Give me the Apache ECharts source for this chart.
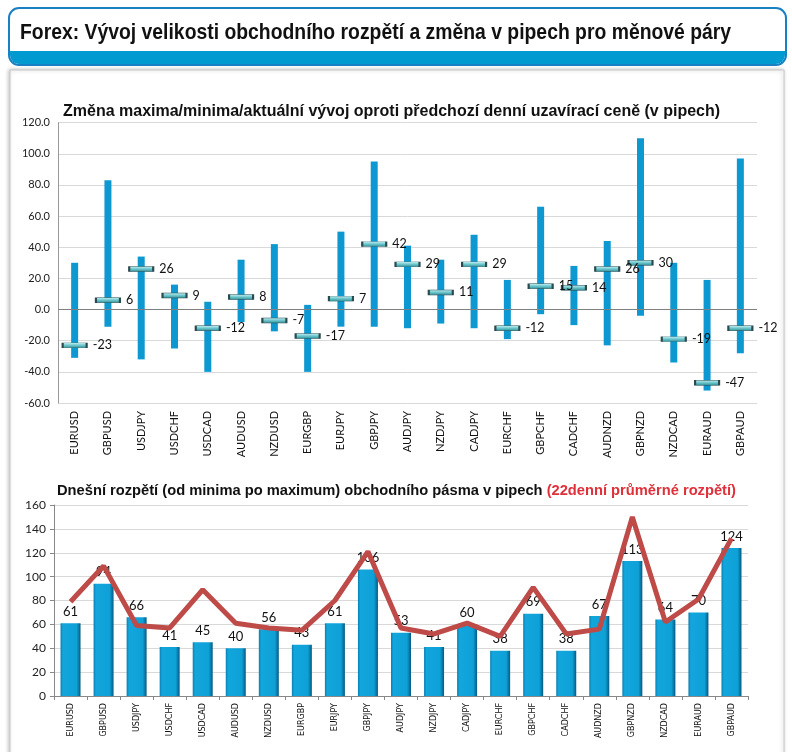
<!DOCTYPE html>
<html><head><meta charset="utf-8">
<script src="https://cdn.jsdelivr.net/npm/echarts@6/dist/echarts.min.js"></script>
<style>html,body{margin:0;padding:0;background:#fff}#c{width:792px;height:752px}</style>
</head><body><div id="c"></div>
<script>
const categories = ['EURUSD','GBPUSD','USDJPY','USDCHF','USDCAD','AUDUSD','NZDUSD','EURGBP','EURJPY','GBPJPY','AUDJPY','NZDJPY','CADJPY','EURCHF','GBPCHF','CADCHF','AUDNZD','GBPNZD','NZDCAD','EURAUD','GBPAUD'];
const highChange = [30,83,34,16,5,32,42,3,50,95,41,32,48,19,66,28,44,110,30,19,97];
const lowChange = [-31,-11,-32,-25,-40,-8,-14,-40,-11,-11,-12,-9,-12,-19,-3,-10,-23,-4,-34,-52,-28];
const currentChange = [-23,6,26,9,-12,8,-7,-17,7,42,29,11,29,-12,15,14,26,30,-19,-47,-12];
const todayRange = [61,94,66,41,45,40,56,43,61,106,53,41,60,38,69,38,67,113,64,70,124];
const avgRange22 = [79,109,59,57,89,61,57,55,80,121,57,52,61,50,91,52,56,150,62,81,132];
const topTicks = {min:-60, max:120, interval:20};
const bottomTicks = {min:0, max:160, interval:20};

const chart = echarts.init(document.getElementById('c'), null, {renderer:'canvas'});
const NUM_FONT = 'Lato, "Open Sans", sans-serif';
const option = {
  animation:false,
  graphic:[
    {type:'rect', shape:{x:10,y:70,width:774,height:700}, style:{fill:'#fff', stroke:'#c8c8c8', lineWidth:1, shadowBlur:4, shadowColor:'rgba(0,0,0,0.25)', shadowOffsetX:-1}, z:-10},
    {type:'rect', shape:{x:9,y:8,width:777,height:57,r:10}, style:{fill:'#fff', stroke:'#1a80c4', lineWidth:2}, z:1},
    {type:'rect', shape:{x:10,y:51,width:775,height:13,r:[0,0,9,9]}, style:{fill:'#0099d0'}, z:2},
    {type:'text', x:20, y:33, scaleX:0.88, style:{text:'Forex: Vývoj velikosti obchodního rozpětí a změna v pipech pro měnové páry', font:'bold 22px "Liberation Sans", Arial, sans-serif', fill:'#111', verticalAlign:'middle'}, z:3},
    {type:'text', x:63, y:112, style:{text:'Změna maxima/minima/aktuální vývoj oproti předchozí denní uzavírací ceně (v pipech)', font:'bold 16px "Liberation Sans", Arial, sans-serif', fill:'#111', verticalAlign:'middle'}, z:3},
    {type:'text', x:57, y:491, style:{text:'{a|Dnešní rozpětí (od minima po maximum) obchodního pásma v pipech }{b|(22denní průměrné rozpětí)}', rich:{a:{font:'bold 14.7px "Liberation Sans", Arial, sans-serif', fill:'#111'}, b:{font:'bold 14.7px "Liberation Sans", Arial, sans-serif', fill:'#e0303a'}}, verticalAlign:'middle'}, z:3}
  ],
  grid:[
    {left:58, right:35, top:122.6, bottom:349},
    {left:54, right:44, top:505, bottom:56}
  ],
  xAxis:[
    {gridIndex:0, type:'category', data:categories, boundaryGap:true,
     axisLine:{show:false}, axisTick:{show:false},
     axisLabel:{rotate:90, interval:0, fontSize:11, fontFamily:NUM_FONT, color:'#111', margin:8}},
    {gridIndex:1, type:'category', data:categories, boundaryGap:true,
     axisLine:{show:true, lineStyle:{color:'#888'}}, axisTick:{show:true, length:4, lineStyle:{color:'#888'}, interval:0},
     axisLabel:{rotate:90, interval:0, fontSize:8, fontFamily:'"DejaVu Sans", sans-serif', color:'#111', margin:7}}
  ],
  yAxis:[
    {gridIndex:0, type:'value', min:topTicks.min, max:topTicks.max, interval:topTicks.interval,
     axisLine:{show:true, lineStyle:{color:'#999'}}, axisTick:{show:false},
     splitLine:{lineStyle:{color:'#d9d9d9'}},
     axisLabel:{formatter:v=>v.toFixed(1), fontSize:11, fontFamily:NUM_FONT, color:'#222', margin:8}},
    {gridIndex:1, type:'value', min:bottomTicks.min, max:bottomTicks.max, interval:bottomTicks.interval,
     axisLine:{show:true, lineStyle:{color:'#888'}}, axisTick:{show:true, length:4, lineStyle:{color:'#888'}},
     splitLine:{lineStyle:{color:'#d9d9d9'}},
     axisLabel:{fontSize:12, fontFamily:NUM_FONT, color:'#222', margin:8}}
  ],
  series:[
    {type:'custom', xAxisIndex:0, yAxisIndex:0,
     data:categories.map((c,i)=>[i, lowChange[i], highChange[i]]),
     encode:{x:0, y:[1,2]},
     renderItem:function(params, api){
       const i = api.value(0);
       const pHi = api.coord([i, api.value(2)]);
       const pLo = api.coord([i, api.value(1)]);
       return {type:'rect', shape:{x:pHi[0]-3.5, y:pHi[1], width:7, height:pLo[1]-pHi[1]}, style:{fill:'#0e98d1'}};
     },
     markLine:{silent:true, symbol:'none', label:{show:false}, lineStyle:{color:'#808080', width:1, type:'solid'}, data:[{yAxis:0}]},
     z:2},
    {type:'scatter', xAxisIndex:0, yAxisIndex:0, data:currentChange,
     symbol:'rect', symbolSize:[24,5],
     itemStyle:{color:new echarts.graphic.LinearGradient(0,0,0,1,[{offset:0,color:'#c8f2f4'},{offset:0.5,color:'#6cc6cc'},{offset:1,color:'#2f8c94'}]), borderColor:'#2b4a4e', borderWidth:1, opacity:1},
     label:{show:true, position:'right', distance:5, fontSize:12.5, fontFamily:NUM_FONT, color:'#111'},
     z:3},
    {type:'bar', xAxisIndex:1, yAxisIndex:1, data:todayRange, barWidth:20,
     itemStyle:{color:new echarts.graphic.LinearGradient(0,0,1,0,[{offset:0,color:'#0b7fb0'},{offset:0.12,color:'#12a6dd'},{offset:0.8,color:'#0ea1d8'},{offset:1,color:'#065a80'}])},
     label:{show:true, position:'top', distance:5, fontSize:13, fontFamily:NUM_FONT, color:'#111'},
     z:2},
    {type:'line', xAxisIndex:1, yAxisIndex:1, data:avgRange22, showSymbol:false, symbol:'none',
     lineStyle:{color:'#be4b48', width:5}, itemStyle:{color:'#be4b48'}, z:4}
  ]
};
chart.setOption(option);
</script></body></html>
